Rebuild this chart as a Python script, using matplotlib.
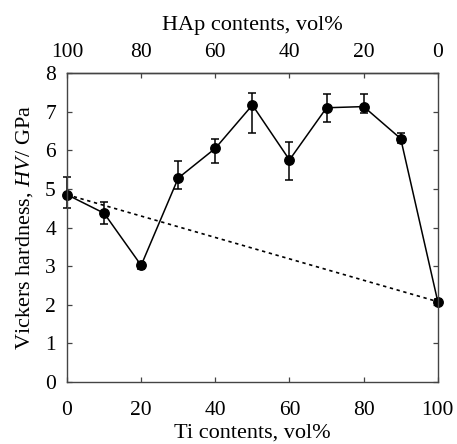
import matplotlib
matplotlib.use("Agg")
import matplotlib.pyplot as plt
import numpy as np

ti = [0, 10, 20, 30, 40, 50, 60, 70, 80, 90, 100]
hv = [4.85, 4.37, 3.02, 5.28, 6.05, 7.17, 5.75, 7.10, 7.13, 6.30, 2.08]
hv_lo = [4.50, 4.10, 2.93, 5.00, 5.68, 6.45, 5.23, 6.72, 6.97, 6.18, 2.00]
hv_hi = [5.30, 4.65, 3.10, 5.72, 6.28, 7.47, 6.22, 7.45, 7.45, 6.45, 2.15]
rule_x = [0, 100]
rule_y = [4.85, 2.08]

plt.rcParams["font.family"] = ["Liberation Serif", "DejaVu Serif"]
plt.rcParams["mathtext.fontset"] = "custom"
plt.rcParams["mathtext.it"] = "Liberation Serif:italic"
fs = 15.5

fig = plt.figure(figsize=(4.57, 4.44), dpi=100)
ax = fig.add_axes([0.1466, 0.1396, 0.8114, 0.696])

hv_a = np.array(hv)
yerr = [hv_a - np.array(hv_lo), np.array(hv_hi) - hv_a]
ax.plot(rule_x, rule_y, ls=(0, (2, 2.2)), color="black", lw=1.2)
eb = ax.errorbar(ti, hv, yerr=yerr, fmt="o-", color="black", ms=6.8, lw=1.1,
                 elinewidth=1.1, capsize=3, capthick=1.1)
for art in eb.lines[:1] + tuple(eb.lines[1]) + tuple(eb.lines[2]):
    art.set_clip_on(False)

ax.set_xlim(0, 100)
ax.set_ylim(0, 8)
ax.set_xticks(range(0, 101, 20))
ax.set_yticks(range(0, 9))
ax.tick_params(direction="in", labelsize=fs, length=3.5, width=0.9,
               top=False, right=True, color="#444444")
ax.tick_params(axis="x", pad=14)
ax.tick_params(axis="y", pad=8)
ax.set_xlabel("Ti contents, vol%", fontsize=16, labelpad=2)
ax.set_ylabel("Vickers hardness, $\\mathit{HV}$/ GPa", fontsize=16, labelpad=7)
for s in ax.spines.values():
    s.set_linewidth(1.0)
    s.set_color("#444444")

top = ax.secondary_xaxis("top", functions=(lambda x: 100 - x, lambda x: 100 - x))
top.set_xticks(range(0, 101, 20))
top.tick_params(direction="in", labelsize=fs, length=3.5, width=0.9, pad=8,
                color="#444444")
top.spines["top"].set_linewidth(1.0)
top.spines["top"].set_color("#444444")
top.set_xlabel("HAp contents, vol%", fontsize=16, labelpad=9)

fig.savefig("out.png", dpi=100)
